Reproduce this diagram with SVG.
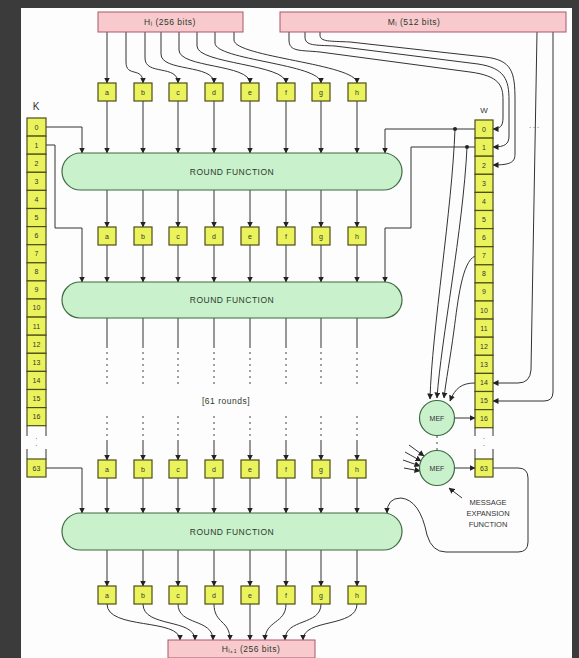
<svg xmlns="http://www.w3.org/2000/svg" width="579" height="658" viewBox="0 0 579 658">
<defs>
<marker id="ah" markerWidth="6" markerHeight="6" refX="5.5" refY="3" orient="auto" markerUnits="userSpaceOnUse">
<path d="M0,0 L6,3 L0,6 z" fill="#222"/>
</marker>
<style>
.ln{fill:none;stroke:#333;stroke-width:1}
.ar{fill:none;stroke:#333;stroke-width:1;marker-end:url(#ah)}
.dash{fill:none;stroke:#444;stroke-width:1;stroke-dasharray:2 4}
.cell{fill:#ebf35c;stroke:#4d4d1a;stroke-width:1.2}
.pill{fill:#c9f1cb;stroke:#3f6a45;stroke-width:1.2}
.pink{fill:#f8cace;stroke:#a85868;stroke-width:1}
.t{font-family:"Liberation Sans",Arial,sans-serif;fill:#333;text-anchor:middle}
.ct{font-family:"Liberation Sans",Arial,sans-serif;fill:#333;text-anchor:middle;font-size:7px}
.lt{font-family:"Liberation Sans",Arial,sans-serif;fill:#2d3a2d;text-anchor:middle;font-size:8.5px;letter-spacing:0.5px}
</style>
</defs>
<rect x="0" y="0" width="579" height="658" fill="#3b3b3b"/>
<rect x="21" y="8" width="551" height="650" fill="#fdfdfd"/>

<g id="connectors">
<path class="ar" d="M107,32 V83"/>
<path class="ar" d="M126,32 V62 C126,78 143,66 143,83"/>
<path class="ar" d="M145,32 V58 C145,76 178,64 178,83"/>
<path class="ar" d="M161,32 V54 C161,72 214,64 214,83"/>
<path class="ar" d="M179,32 V50 C179,68 250,64 250,83"/>
<path class="ar" d="M197,32 V46 C197,64 286,64 286,83"/>
<path class="ar" d="M215,32 V43 C215,60 321,64 321,83"/>
<path class="ar" d="M234,32 V40 C234,57 357,64 357,83"/>
<path class="ar" d="M107,101 V153"/><path class="ar" d="M143,101 V153"/><path class="ar" d="M178,101 V153"/><path class="ar" d="M214,101 V153"/>
<path class="ar" d="M250,101 V153"/><path class="ar" d="M286,101 V153"/><path class="ar" d="M321,101 V153"/><path class="ar" d="M357,101 V153"/>
<path class="ar" d="M107,190 V227"/><path class="ar" d="M143,190 V227"/><path class="ar" d="M178,190 V227"/><path class="ar" d="M214,190 V227"/>
<path class="ar" d="M250,190 V227"/><path class="ar" d="M286,190 V227"/><path class="ar" d="M321,190 V227"/><path class="ar" d="M357,190 V227"/>
<path class="ar" d="M107,245 V282"/><path class="ar" d="M143,245 V282"/><path class="ar" d="M178,245 V282"/><path class="ar" d="M214,245 V282"/>
<path class="ar" d="M250,245 V282"/><path class="ar" d="M286,245 V282"/><path class="ar" d="M321,245 V282"/><path class="ar" d="M357,245 V282"/>
<path class="ln" d="M107,318 V348 M143,318 V348 M178,318 V348 M214,318 V348 M250,318 V348 M286,318 V348 M321,318 V348 M357,318 V348"/>
<path class="dash" d="M107,352 V384 M143,352 V384 M178,352 V384 M214,352 V384 M250,352 V384 M286,352 V384 M321,352 V384 M357,352 V384"/>
<path class="dash" d="M107,416 V440 M143,416 V440 M178,416 V440 M214,416 V440 M250,416 V440 M286,416 V440 M321,416 V440 M357,416 V440"/>
<path class="ar" d="M107,440 V460"/><path class="ar" d="M143,440 V460"/><path class="ar" d="M178,440 V460"/><path class="ar" d="M214,440 V460"/>
<path class="ar" d="M250,440 V460"/><path class="ar" d="M286,440 V460"/><path class="ar" d="M321,440 V460"/><path class="ar" d="M357,440 V460"/>
<path class="ar" d="M107,478 V513"/><path class="ar" d="M143,478 V513"/><path class="ar" d="M178,478 V513"/><path class="ar" d="M214,478 V513"/>
<path class="ar" d="M250,478 V513"/><path class="ar" d="M286,478 V513"/><path class="ar" d="M321,478 V513"/><path class="ar" d="M357,478 V513"/>
<path class="ar" d="M107,550 V586"/><path class="ar" d="M143,550 V586"/><path class="ar" d="M178,550 V586"/><path class="ar" d="M214,550 V586"/>
<path class="ar" d="M250,550 V586"/><path class="ar" d="M286,550 V586"/><path class="ar" d="M321,550 V586"/><path class="ar" d="M357,550 V586"/>
<path class="ar" d="M107,604 C107,630 180,618 180,640"/>
<path class="ar" d="M143,604 C143,628 195,618 195,640"/>
<path class="ar" d="M178,604 C178,626 213,618 213,640"/>
<path class="ar" d="M214,604 C214,624 230,620 230,640"/>
<path class="ar" d="M250,604 V640"/>
<path class="ar" d="M286,604 C286,624 265,620 265,640"/>
<path class="ar" d="M321,604 C321,626 285,618 285,640"/>
<path class="ar" d="M357,604 C357,628 303,618 303,640"/>
<path class="ar" d="M46,127 H82 V153"/>
<path class="ar" d="M46,145 H55 V228 H82 V282"/>
<path class="ar" d="M46,468 H82 V513"/>
<path class="ar" d="M475,129 H385 V153"/>
<path class="ar" d="M475,147 H411 V228 H385 V282"/>
<path class="ar" d="M493,468 H518 Q528,468 528,478 V542 Q528,552 518,552 H446 Q432,552 427,535 Q420,500 401,498 Q387,498 387,513"/>
<circle cx="455" cy="129" r="2" fill="#222"/>
<circle cx="467" cy="147" r="2" fill="#222"/>
<path class="ar" d="M289,32 V40 C289,52 300,50 320,52 L470,72 C500,76 503,86 503,100 V118 C503,126 500,129 493,129"/>
<path class="ar" d="M305,32 V37 C305,46 315,45 335,46 L478,64 C505,68 509,80 509,100 V136 C509,144 505,147 493,147"/>
<path class="ar" d="M320,32 V35 C320,42 330,41 350,42 L485,57 C512,60 515,72 515,100 V154 C515,162 511,165 493,165"/>
<path class="ar" d="M537,32 L531,370 Q530,383 518,383 H493"/>
<path class="ar" d="M553,32 V392 Q553,401 544,401 H493"/>
<path class="ar" d="M455,129 C452,210 432,330 430,399"/>
<path class="ar" d="M467,147 C463,230 441,340 437,398"/>
<path class="ar" d="M475,256 C462,262 458,300 454,330 C450,360 446,380 444,398"/>
<path class="ar" d="M475,383 C462,383 455,388 450,401"/>
<path class="ar" d="M455,418 H475"/>
<path class="ar" d="M455,468 H475"/>
<path class="dash" d="M437,436 V451"/>
<path class="ar" d="M409,445 L424,456"/>
<path class="ar" d="M405,452 L421,461"/>
<path class="ar" d="M403,460 L420,466"/>
<path class="ar" d="M404,468 L420,471"/>
<path class="ar" d="M462,498 L449,488"/>
</g>

<g id="H_in"><rect class="pink" x="98" y="12" width="145" height="20"/><text class="lt" x="170" y="25">Hᵢ (256 bits)</text></g>
<g id="M_in"><rect class="pink" x="280" y="12" width="286" height="20"/><text class="lt" x="414" y="25">Mᵢ (512 bits)</text></g>
<g id="H_out"><rect class="pink" x="168" y="640" width="147" height="18"/><text class="lt" x="251" y="652">Hᵢ₊₁ (256 bits)</text></g>

<g id="row1">
<rect class="cell" x="98" y="83" width="18" height="18"/><text class="ct" x="107" y="95">a</text>
<rect class="cell" x="134" y="83" width="18" height="18"/><text class="ct" x="143" y="95">b</text>
<rect class="cell" x="169" y="83" width="18" height="18"/><text class="ct" x="178" y="95">c</text>
<rect class="cell" x="205" y="83" width="18" height="18"/><text class="ct" x="214" y="95">d</text>
<rect class="cell" x="241" y="83" width="18" height="18"/><text class="ct" x="250" y="95">e</text>
<rect class="cell" x="277" y="83" width="18" height="18"/><text class="ct" x="286" y="95">f</text>
<rect class="cell" x="312" y="83" width="18" height="18"/><text class="ct" x="321" y="95">g</text>
<rect class="cell" x="348" y="83" width="18" height="18"/><text class="ct" x="357" y="95">h</text>
</g>
<g id="round1"><rect class="pill" x="62" y="153" width="340" height="37" rx="18.5"/><text class="lt" x="232" y="175">ROUND FUNCTION</text></g>
<g id="row2">
<rect class="cell" x="98" y="227" width="18" height="18"/><text class="ct" x="107" y="239">a</text>
<rect class="cell" x="134" y="227" width="18" height="18"/><text class="ct" x="143" y="239">b</text>
<rect class="cell" x="169" y="227" width="18" height="18"/><text class="ct" x="178" y="239">c</text>
<rect class="cell" x="205" y="227" width="18" height="18"/><text class="ct" x="214" y="239">d</text>
<rect class="cell" x="241" y="227" width="18" height="18"/><text class="ct" x="250" y="239">e</text>
<rect class="cell" x="277" y="227" width="18" height="18"/><text class="ct" x="286" y="239">f</text>
<rect class="cell" x="312" y="227" width="18" height="18"/><text class="ct" x="321" y="239">g</text>
<rect class="cell" x="348" y="227" width="18" height="18"/><text class="ct" x="357" y="239">h</text>
</g>
<g id="round2"><rect class="pill" x="62" y="282" width="340" height="36" rx="18"/><text class="lt" x="232" y="303">ROUND FUNCTION</text></g>
<g id="rounds_note"><text class="lt" x="226" y="404">[61 rounds]</text></g>
<g id="row3">
<rect class="cell" x="98" y="460" width="18" height="18"/><text class="ct" x="107" y="472">a</text>
<rect class="cell" x="134" y="460" width="18" height="18"/><text class="ct" x="143" y="472">b</text>
<rect class="cell" x="169" y="460" width="18" height="18"/><text class="ct" x="178" y="472">c</text>
<rect class="cell" x="205" y="460" width="18" height="18"/><text class="ct" x="214" y="472">d</text>
<rect class="cell" x="241" y="460" width="18" height="18"/><text class="ct" x="250" y="472">e</text>
<rect class="cell" x="277" y="460" width="18" height="18"/><text class="ct" x="286" y="472">f</text>
<rect class="cell" x="312" y="460" width="18" height="18"/><text class="ct" x="321" y="472">g</text>
<rect class="cell" x="348" y="460" width="18" height="18"/><text class="ct" x="357" y="472">h</text>
</g>
<g id="round3"><rect class="pill" x="62" y="513" width="340" height="37" rx="18.5"/><text class="lt" x="232" y="535">ROUND FUNCTION</text></g>
<g id="row4">
<rect class="cell" x="98" y="586" width="18" height="18"/><text class="ct" x="107" y="598">a</text>
<rect class="cell" x="134" y="586" width="18" height="18"/><text class="ct" x="143" y="598">b</text>
<rect class="cell" x="169" y="586" width="18" height="18"/><text class="ct" x="178" y="598">c</text>
<rect class="cell" x="205" y="586" width="18" height="18"/><text class="ct" x="214" y="598">d</text>
<rect class="cell" x="241" y="586" width="18" height="18"/><text class="ct" x="250" y="598">e</text>
<rect class="cell" x="277" y="586" width="18" height="18"/><text class="ct" x="286" y="598">f</text>
<rect class="cell" x="312" y="586" width="18" height="18"/><text class="ct" x="321" y="598">g</text>
<rect class="cell" x="348" y="586" width="18" height="18"/><text class="ct" x="357" y="598">h</text>
</g>

<g id="K">
<text x="36" y="110" font-size="10" fill="#333" text-anchor="middle" font-family="Liberation Sans, Arial, sans-serif">K</text>
<rect class="cell" x="27" y="118" width="19" height="18.1"/><text class="ct" x="36.5" y="130">0</text>
<rect class="cell" x="27" y="136.1" width="19" height="18.1"/><text class="ct" x="36.5" y="148">1</text>
<rect class="cell" x="27" y="154.2" width="19" height="18.1"/><text class="ct" x="36.5" y="166">2</text>
<rect class="cell" x="27" y="172.3" width="19" height="18.1"/><text class="ct" x="36.5" y="184">3</text>
<rect class="cell" x="27" y="190.4" width="19" height="18.1"/><text class="ct" x="36.5" y="202">4</text>
<rect class="cell" x="27" y="208.5" width="19" height="18.1"/><text class="ct" x="36.5" y="220">5</text>
<rect class="cell" x="27" y="226.6" width="19" height="18.1"/><text class="ct" x="36.5" y="238">6</text>
<rect class="cell" x="27" y="244.7" width="19" height="18.1"/><text class="ct" x="36.5" y="256">7</text>
<rect class="cell" x="27" y="262.8" width="19" height="18.1"/><text class="ct" x="36.5" y="274">8</text>
<rect class="cell" x="27" y="280.9" width="19" height="18.1"/><text class="ct" x="36.5" y="292">9</text>
<rect class="cell" x="27" y="299" width="19" height="18.1"/><text class="ct" x="36.5" y="310">10</text>
<rect class="cell" x="27" y="317.1" width="19" height="18.1"/><text class="ct" x="36.5" y="329">11</text>
<rect class="cell" x="27" y="335.2" width="19" height="18.1"/><text class="ct" x="36.5" y="347">12</text>
<rect class="cell" x="27" y="353.3" width="19" height="18.1"/><text class="ct" x="36.5" y="365">13</text>
<rect class="cell" x="27" y="371.4" width="19" height="18.1"/><text class="ct" x="36.5" y="383">14</text>
<rect class="cell" x="27" y="389.5" width="19" height="18.1"/><text class="ct" x="36.5" y="401">15</text>
<rect class="cell" x="27" y="407.6" width="19" height="18.1"/><text class="ct" x="36.5" y="419">16</text>
<path class="ln" d="M27,425.7 V436 M46,425.7 V436 M27,449 V459 M46,449 V459"/>
<text class="ct" x="36.5" y="441">·</text><text class="ct" x="36.5" y="448">·</text>
<rect class="cell" x="27" y="459" width="19" height="18"/><text class="ct" x="36.5" y="471">63</text>
</g>

<g id="W">
<text x="484" y="113" font-size="8" fill="#333" text-anchor="middle" font-family="Liberation Sans, Arial, sans-serif">W</text>
<rect class="cell" x="475" y="120" width="18" height="18.1"/><text class="ct" x="484" y="132">0</text>
<rect class="cell" x="475" y="138.1" width="18" height="18.1"/><text class="ct" x="484" y="150">1</text>
<rect class="cell" x="475" y="156.2" width="18" height="18.1"/><text class="ct" x="484" y="168">2</text>
<rect class="cell" x="475" y="174.3" width="18" height="18.1"/><text class="ct" x="484" y="186">3</text>
<rect class="cell" x="475" y="192.4" width="18" height="18.1"/><text class="ct" x="484" y="204">4</text>
<rect class="cell" x="475" y="210.5" width="18" height="18.1"/><text class="ct" x="484" y="222">5</text>
<rect class="cell" x="475" y="228.6" width="18" height="18.1"/><text class="ct" x="484" y="240">6</text>
<rect class="cell" x="475" y="246.7" width="18" height="18.1"/><text class="ct" x="484" y="258">7</text>
<rect class="cell" x="475" y="264.8" width="18" height="18.1"/><text class="ct" x="484" y="276">8</text>
<rect class="cell" x="475" y="282.9" width="18" height="18.1"/><text class="ct" x="484" y="294">9</text>
<rect class="cell" x="475" y="301" width="18" height="18.1"/><text class="ct" x="484" y="313">10</text>
<rect class="cell" x="475" y="319.1" width="18" height="18.1"/><text class="ct" x="484" y="331">11</text>
<rect class="cell" x="475" y="337.2" width="18" height="18.1"/><text class="ct" x="484" y="349">12</text>
<rect class="cell" x="475" y="355.3" width="18" height="18.1"/><text class="ct" x="484" y="367">13</text>
<rect class="cell" x="475" y="373.4" width="18" height="18.1"/><text class="ct" x="484" y="385">14</text>
<rect class="cell" x="475" y="391.5" width="18" height="18.1"/><text class="ct" x="484" y="403">15</text>
<rect class="cell" x="475" y="409.6" width="18" height="18.1"/><text class="ct" x="484" y="421">16</text>
<path class="ln" d="M475,427.7 V436 M493,427.7 V436 M475,449 V459 M493,449 V459"/>
<text class="ct" x="484" y="441">·</text><text class="ct" x="484" y="448">·</text>
<rect class="cell" x="475" y="459" width="18" height="18"/><text class="ct" x="484" y="471">63</text>
<text class="ct" x="534" y="128">. . .</text>
</g>

<g id="MEF1"><circle class="pill" cx="437" cy="418" r="17.5"/><text class="ct" x="437" y="421">MEF</text></g>
<g id="MEF2"><circle class="pill" cx="437" cy="468" r="17.5"/><text class="ct" x="437" y="471">MEF</text></g>
<g id="mef_label">
<text class="t" font-size="7.5" x="488" y="505">MESSAGE</text>
<text class="t" font-size="7.5" x="488" y="516">EXPANSION</text>
<text class="t" font-size="7.5" x="488" y="527">FUNCTION</text>
</g>
</svg>
